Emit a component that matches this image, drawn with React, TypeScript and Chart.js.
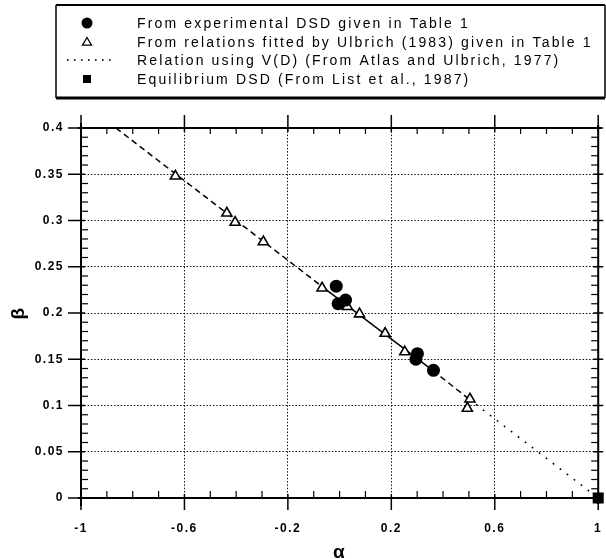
import React, { useEffect, useRef } from 'react';
import { Chart, registerables } from 'chart.js';
Chart.register(...registerables);

// Experimental DSD (filled circles)
const expAlpha = [-0.013, -0.006, 0.023, 0.301, 0.295, 0.363];
const expBeta = [0.229, 0.210, 0.214, 0.156, 0.150, 0.138];
// Ulbrich (1983) fitted relations (open triangles)
const ulbAlpha = [-0.635, -0.436, -0.404, -0.295, -0.068, 0.03, 0.077, 0.176, 0.252, 0.504, 0.494];
const ulbBeta = [0.348, 0.308, 0.298, 0.277, 0.227, 0.207, 0.199, 0.178, 0.158, 0.107, 0.097];
// Relation using V(D) (line)
const relAlpha = [-0.865, -0.065, 0.36, 0.5, 1];
const relBeta = [0.4, 0.228, 0.138, 0.107, 0];
// Equilibrium DSD (square)
const eqAlpha = [1];
const eqBeta = [0];

const xTickValues = [-1, -0.6, -0.2, 0.2, 0.6, 1];
const yTickValues = [0, 0.05, 0.1, 0.15, 0.2, 0.25, 0.3, 0.35, 0.4];
const legendLabels = [
  'From experimental DSD given in Table 1',
  'From relations fitted by Ulbrich (1983) given in Table 1',
  'Relation using V(D) (From Atlas and Ulbrich, 1977)',
  'Equilibrium DSD (From List et al., 1987)',
];
const xTitle = 'α';
const yTitle = 'β';

const FONT = '"Liberation Sans", Arial, Helvetica, sans-serif';

export default function App() {
  const ref = useRef<HTMLCanvasElement>(null);
  useEffect(() => {
    const canvas = ref.current;
    if (!canvas) return;
    const pts = (xs: number[], ys: number[]) => xs.map((x, i) => ({ x, y: ys[i] }));
    const fmt = (v: number) => String(parseFloat(Number(v).toFixed(2)));

    const spacingPlugin = {
      id: 'spacing',
      beforeDraw(chart: any) {
        chart.ctx.letterSpacing = '1.5px';
      },
      afterDraw(chart: any) {
        chart.ctx.letterSpacing = '0px';
      },
    };

    const framePlugin = {
      id: 'frame',
      beforeDatasetsDraw(chart: any) {
        const { ctx, chartArea: a, scales } = chart;
        const xs = scales.x, ys = scales.y;
        ctx.save();
        ctx.letterSpacing = '0px';
        ctx.strokeStyle = '#000';
        ctx.setLineDash([]);
        const line = (x1: number, y1: number, x2: number, y2: number, w: number) => {
          ctx.lineWidth = w;
          ctx.beginPath();
          ctx.moveTo(x1, y1);
          ctx.lineTo(x2, y2);
          ctx.stroke();
        };
        // axes
        line(a.left, a.top - 5, a.left, a.bottom + 8, 2);
        line(a.right, a.top - 3, a.right, a.bottom + 6, 2);
        line(a.left - 3, a.top, a.right + 3, a.top, 2);
        line(a.left - 3, a.bottom, a.right + 3, a.bottom, 2);
        // x ticks
        for (let k = -10; k <= 10; k++) {
          const v = k / 10;
          const px = xs.getPixelForValue(v);
          const major = xTickValues.some((t) => Math.abs(t - v) < 1e-6);
          if (major) {
            line(px, a.bottom - 4, px, a.bottom + 12, 1.5);
            line(px, a.top - 13, px, a.top + 4, 1.5);
          } else {
            line(px, a.bottom, px, a.bottom - 7, 1.2);
            line(px, a.top, px, a.top + 6, 1.2);
          }
        }
        // y ticks
        for (let k = 0; k <= 40; k++) {
          const v = k / 100;
          const py = ys.getPixelForValue(v);
          const major = k % 5 === 0;
          if (major) {
            line(a.left - 13, py, a.left + 4, py, 1.5);
            line(a.right - 5, py, a.right + 5, py, 1.5);
          } else {
            line(a.left, py, a.left + 7, py, 1.2);
            line(a.right, py, a.right - 7, py, 1.2);
          }
        }
        ctx.restore();
      },
    };

    const legendPlugin = {
      id: 'boxLegend',
      afterDraw(chart: any) {
        const ctx = chart.ctx;
        ctx.save();
        ctx.letterSpacing = '0px';
        ctx.setLineDash([]);
        ctx.strokeStyle = '#000';
        ctx.fillStyle = '#000';
        const L = 56, T = 5, R = 605, B = 98;
        ctx.lineWidth = 1.5;
        ctx.beginPath();
        ctx.moveTo(L, T);
        ctx.lineTo(L, B);
        ctx.moveTo(R, T);
        ctx.lineTo(R, B);
        ctx.stroke();
        ctx.lineWidth = 2;
        ctx.beginPath();
        ctx.moveTo(L, T);
        ctx.lineTo(R, T);
        ctx.stroke();
        ctx.lineWidth = 3;
        ctx.beginPath();
        ctx.moveTo(L, B);
        ctx.lineTo(R, B);
        ctx.stroke();

        const rows = [23, 42, 60, 79];
        const mx = 87;
        // circle
        ctx.beginPath();
        ctx.arc(mx, rows[0], 5.5, 0, Math.PI * 2);
        ctx.fill();
        // triangle
        ctx.lineWidth = 1.3;
        ctx.beginPath();
        ctx.moveTo(mx, rows[1] - 4.5);
        ctx.lineTo(mx + 4.5, rows[1] + 3.2);
        ctx.lineTo(mx - 4.5, rows[1] + 3.2);
        ctx.closePath();
        ctx.stroke();
        // dotted line
        for (let x = 67; x <= 110; x += 7) {
          ctx.fillRect(x, rows[2] - 0.8, 1.6, 1.6);
        }
        // square
        ctx.fillRect(mx - 4, rows[3] - 4, 8, 8);

        ctx.font = '14px ' + FONT;
        ctx.letterSpacing = '2.15px';
        ctx.textBaseline = 'middle';
        ctx.textAlign = 'left';
        legendLabels.forEach((t, i) => ctx.fillText(t, 137, rows[i] + 1));
        ctx.restore();
      },
    };

    const segStyles = [[6, 4], [], [6, 4], [1.8, 7]];

    const chart = new Chart(canvas, {
      type: 'scatter',
      data: {
        datasets: [
          {
            label: legendLabels[0],
            data: pts(expAlpha, expBeta),
            pointStyle: 'circle',
            pointRadius: 6.5,
            backgroundColor: '#000',
            borderColor: '#000',
            borderWidth: 0,
          },
          {
            label: legendLabels[1],
            data: pts(ulbAlpha, ulbBeta),
            pointStyle: 'triangle',
            pointRadius: 5.8,
            backgroundColor: '#fff',
            borderColor: '#000',
            borderWidth: 1.6,
          },
          {
            label: legendLabels[3],
            data: pts(eqAlpha, eqBeta),
            pointStyle: 'rect',
            pointRadius: 7.8,
            backgroundColor: '#000',
            borderColor: '#000',
            borderWidth: 0,
            clip: false as any,
          },
          {
            type: 'line' as any,
            label: legendLabels[2],
            data: pts(relAlpha, relBeta),
            showLine: true,
            pointRadius: 0,
            borderColor: '#000',
            borderWidth: 1.5,
            fill: false,
            segment: {
              borderDash: (c: any) => segStyles[c.p0DataIndex] as any,
            },
          } as any,
        ],
      },
      options: {
        animation: false,
        responsive: false,
        devicePixelRatio: 1,
        layout: { padding: { left: 0, right: 3, top: 128, bottom: 0 } },
        plugins: { legend: { display: false }, tooltip: { enabled: false } },
        scales: {
          x: {
            type: 'linear',
            min: -1,
            max: 1,
            afterBuildTicks: (s: any) => {
              s.ticks = xTickValues.map((v) => ({ value: v }));
            },
            afterFit: (s: any) => {
              s.height = 61;
              s.paddingLeft = 0;
              s.paddingRight = 0;
            },
            grid: { color: '#111', lineWidth: 1, drawTicks: false },
            border: { display: false, dash: [1.5, 1.8] },
            ticks: {
              padding: 23,
              color: '#000',
              font: { family: FONT, size: 12, weight: 'bold' },
              callback: (v: any) => fmt(v),
              maxRotation: 0,
              autoSkip: false,
            },
            title: {
              display: true,
              text: xTitle,
              color: '#000',
              font: { family: FONT, size: 19, weight: 'bold', lineHeight: 0.7 },
              padding: 0,
            },
          },
          y: {
            type: 'linear',
            min: 0,
            max: 0.4,
            afterBuildTicks: (s: any) => {
              s.ticks = yTickValues.map((v) => ({ value: v }));
            },
            afterFit: (s: any) => {
              s.width = 81;
              s.paddingTop = 0;
              s.paddingBottom = 0;
            },
            grid: { color: '#111', lineWidth: 1, drawTicks: false },
            border: { display: false, dash: [1.5, 1.8] },
            ticks: {
              padding: 17,
              color: '#000',
              font: { family: FONT, size: 12, weight: 'bold' },
              callback: (v: any) => fmt(v),
              autoSkip: false,
            },
            title: {
              display: true,
              text: yTitle,
              color: '#000',
              font: { family: FONT, size: 19, weight: 'bold', lineHeight: 1 },
              padding: { top: 9, bottom: 0 },
            },
          },
        },
      },
      plugins: [spacingPlugin, framePlugin, legendPlugin],
    } as any);
    return () => chart.destroy();
  }, []);
  return (
    <div style={{ position: 'absolute', left: 0, top: 0, width: 606, height: 559, background: '#fff' }}>
      <canvas ref={ref} width={606} height={559} style={{ display: 'block' }} />
    </div>
  );
}
